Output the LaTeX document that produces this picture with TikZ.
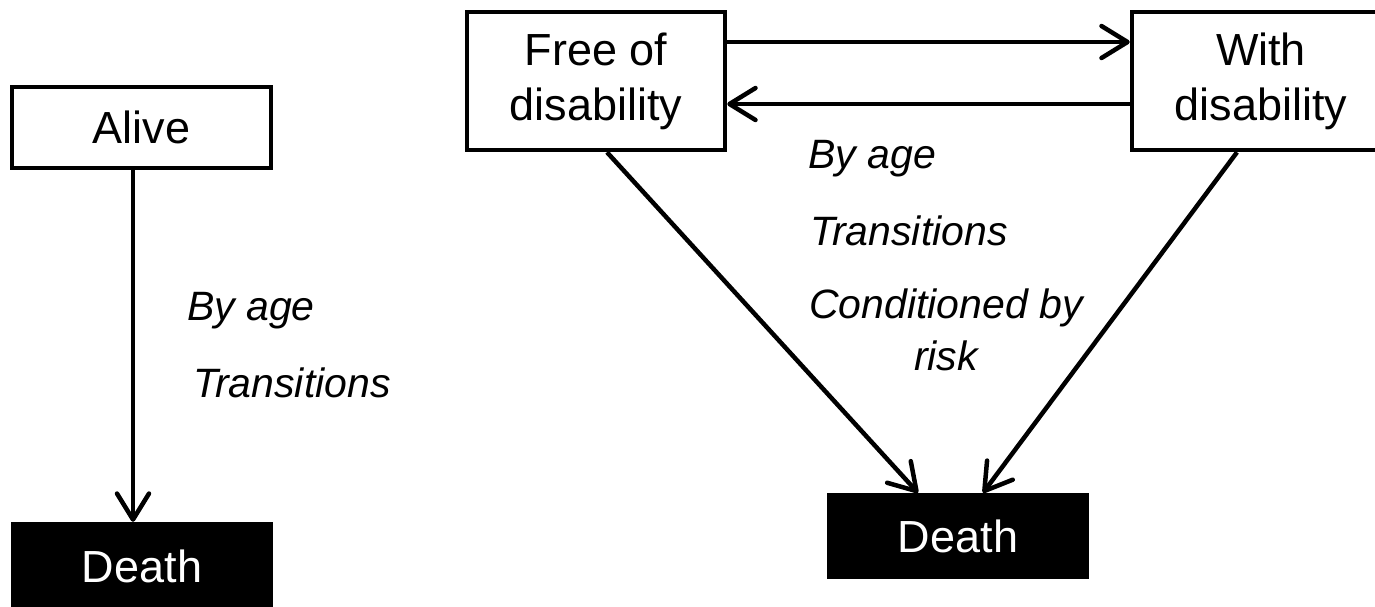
\documentclass[tikz,border=0pt]{standalone}
\usepackage{fontspec}
\setmainfont{Liberation Sans}
\usetikzlibrary{arrows.meta}
\begin{document}
\begin{tikzpicture}[x=1pt,y=1pt,
  statebox/.style={draw=black, line width=4.5pt, fill=white, inner sep=0pt,
    align=center, font=\fontsize{45}{55}\selectfont},
  deathbox/.style={fill=black, text=white, inner sep=0pt,
    font=\fontsize{45}{55}\selectfont},
  arr/.style={line width=4.5pt, -{Straight Barb[length=26pt,width=32pt,line width=4.5pt,round]}},
  lbl/.style={inner sep=0pt, font=\fontsize{41}{50}\selectfont\itshape}]
\useasboundingbox (0,0) rectangle (1375,-606);
\clip (0,0) rectangle (1375,-606);
% left diagram
\node[statebox, minimum width=259pt, minimum height=81pt] (alive) at (141.5,-127.5) {Alive};
\node[deathbox, minimum width=262pt, minimum height=88pt] (deathL) at (142,-566) {Death};
\draw[arr] ([xshift=-8.5pt]alive.south) -- ([xshift=-9pt]deathL.north);
\node[lbl, anchor=base west] (la1) at (187,-320) {By age};
\node[lbl, anchor=base west] (la2) at (193,-397) {Transitions};
% right diagram
\node[statebox, minimum width=258pt, minimum height=138pt] (free) at (596,-81) {Free of\\disability};
\node[statebox, minimum width=258pt, minimum height=138pt] (with) at (1261,-81) {With\\disability};
\node[deathbox, minimum width=262pt, minimum height=86pt] (deathR) at (958,-536) {Death};
\draw[arr] ([yshift=39pt]free.east) -- ([yshift=39pt]with.west);
\draw[arr] ([yshift=-23pt]with.west) -- ([yshift=-23pt]free.east);
\draw[arr] ([xshift=11pt]free.south) -- ([xshift=-40pt]deathR.north);
\draw[arr] ([xshift=-24pt]with.south) -- ([xshift=25pt]deathR.north);
\node[lbl, anchor=base west] (lb1) at (808,-168) {By age};
\node[lbl, anchor=base west] (lb2) at (810,-245) {Transitions};
\node[lbl, anchor=base] (lb3) at (946,-318) {Conditioned by};
\node[lbl, anchor=base] (lb4) at (946,-370) {risk};
\end{tikzpicture}
\end{document}
